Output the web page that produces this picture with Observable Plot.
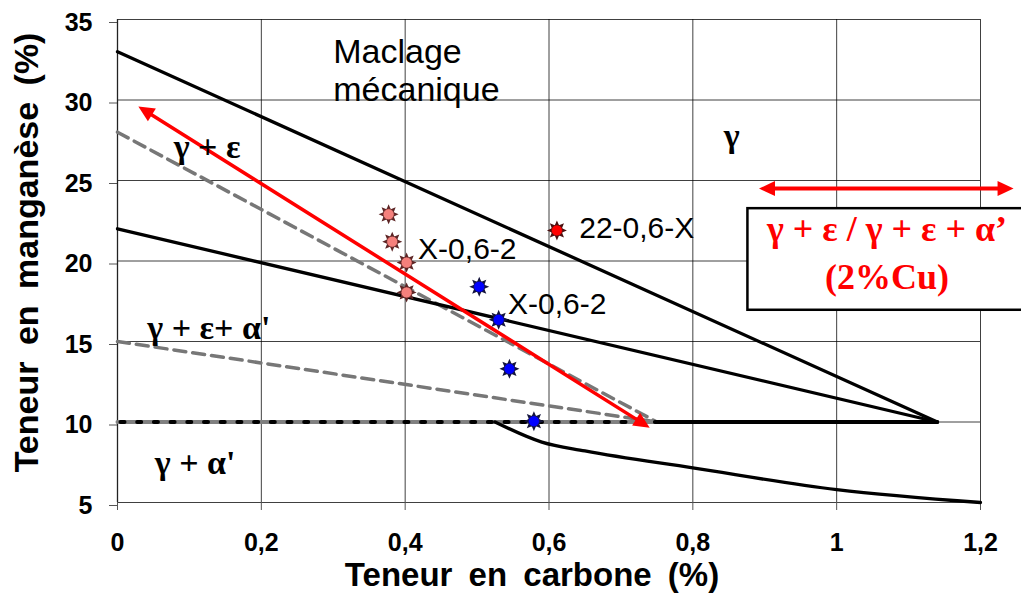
<!DOCTYPE html>
<html>
<head>
<meta charset="utf-8">
<script src="https://cdn.jsdelivr.net/npm/d3@7"></script>
<script src="https://cdn.jsdelivr.net/npm/@observablehq/plot@0.6"></script>
<style>
  html, body { margin: 0; padding: 0; background: #fff; }
</style>
</head>
<body>
<div id="chart"></div>
<script>
// ---- axes ----
const xTicks = [0, 0.2, 0.4, 0.6, 0.8, 1, 1.2];
const xTickLabels = ["0", "0,2", "0,4", "0,6", "0,8", "1", "1,2"];
const yTicks = [5, 10, 15, 20, 25, 30, 35];
const xTitle = "Teneur en carbone (%)";
const yTitle = "Teneur en manganèse (%)";

// ---- phase boundaries (C %, Mn %) ----
const line1C = [0, 1.14], line1Mn = [33, 10];
const line2C = [0, 1.14], line2Mn = [22, 10];
const line3C = [0.75, 1.14], line3Mn = [10, 10];
const lowerC = [0.525, 0.59, 0.65, 0.8, 1.0, 1.2];
const lowerMn = [10, 8.75, 8.2, 7.15, 5.8, 5.0];
const dash1C = [0, 0.75], dash1Mn = [28, 10];
const dash2C = [0, 0.75], dash2Mn = [15, 10];
const dotC = [0, 0.75], dotMn = [10, 10];

// ---- red arrows ----
const arrowC = [0.74, 0.029], arrowMn = [9.65, 29.6];
const cuArrowC = [0.892, 1.246], cuArrowMn = [24.5, 24.5];

// ---- samples ----
const pinkC = [0.377, 0.382, 0.402, 0.402], pinkMn = [22.9, 21.2, 19.9, 18.05];
const blueC = [0.503, 0.530, 0.545, 0.579], blueMn = [18.4, 16.35, 13.3, 10.05];
const redC = [0.611], redMn = [21.9];

// ---- labels ----
const phaseText = ["γ + ε", "γ + ε+ α'", "γ + α'", "γ"];
const phaseC = [0.1245, 0.127, 0.108, 0.854];
const phaseMn = [27.1, 15.86, 7.47, 27.74];
const sampleText = ["X-0,6-2", "22-0,6-X", "X-0,6-2"];
const sampleC = [0.418, 0.642, 0.543];
const sampleMn = [20.72, 22.04, 17.29];
const maclageText = ["Maclage", "mécanique"];
const maclageC = [0.3, 0.3];
const maclageMn = [32.97, 30.61];
const boxText = ["γ + ε / γ + ε + α’", "(2%Cu)"];
const boxTextC = [1.07, 1.07];
const boxTextMn = [21.95, 18.95];
const boxC1 = [0.8766], boxC2 = [1.3], boxMn1 = [16.94], boxMn2 = [23.25];

// ---- layout ----
const W = 1021, H = 599, mL = 117, mR = 41, mT = 19, mB = 97;
const kx = (W - mL - mR) / 1.2, ky = (H - mT - mB) / 30;

function pts(xs, ys) { return xs.map((x, i) => ({x, y: ys[i]})); }

function heads(xs, ys) {
  const ang = (x1, y1, x2, y2) => Math.atan2((x2 - x1) * kx, (y2 - y1) * ky) * 180 / Math.PI;
  return [
    {x: xs[1], y: ys[1], rot: ang(xs[0], ys[0], xs[1], ys[1])},
    {x: xs[0], y: ys[0], rot: ang(xs[1], ys[1], xs[0], ys[0])}
  ];
}
function shaft(xs, ys, inset) {
  const dxp = (xs[1] - xs[0]) * kx, dyp = (ys[1] - ys[0]) * ky;
  const t = inset / Math.hypot(dxp, dyp);
  return [
    {x: xs[0] + (xs[1] - xs[0]) * t, y: ys[0] + (ys[1] - ys[0]) * t},
    {x: xs[1] - (xs[1] - xs[0]) * t, y: ys[1] - (ys[1] - ys[0]) * t}
  ];
}

const arrowHead = {
  draw(ctx) { ctx.moveTo(0, 0); ctx.lineTo(-7.5, 16); ctx.lineTo(7.5, 16); ctx.closePath(); }
};
const burst = {
  draw(ctx) {
    const n = 8, ro = 10, ri = 5.5;
    for (let i = 0; i < 2 * n; i++) {
      const a = i * Math.PI / n - Math.PI / 2;
      const r = i % 2 === 0 ? ro : ri;
      const px = r * Math.cos(a), py = r * Math.sin(a);
      if (i === 0) ctx.moveTo(px, py); else ctx.lineTo(px, py);
    }
    ctx.closePath();
  }
};

function stars(xs, ys, fill, dark) {
  const d = pts(xs, ys);
  return [
    Plot.dot(d, {x: "x", y: "y", symbol: burst, fill: dark, stroke: "none"}),
    Plot.dot(d, {x: "x", y: "y", r: 5.5, fill, stroke: dark, strokeWidth: 0.6})
  ];
}

const serif = "'Liberation Serif', 'Times New Roman', serif";
const sans = "'Liberation Sans', Arial, sans-serif";

const chart = Plot.plot({
  width: W, height: H,
  marginLeft: mL, marginRight: mR, marginTop: mT, marginBottom: mB,
  x: {domain: [0, 1.2]},
  y: {domain: [5, 35]},
  style: {fontFamily: sans, background: "#fff", color: "#000", overflow: "visible"},
  marks: [
    Plot.gridX(xTicks, {stroke: "#000", strokeOpacity: 0.75, strokeWidth: 1}),
    Plot.gridY(yTicks, {stroke: "#000", strokeOpacity: 0.75, strokeWidth: 1}),
    Plot.axisX({ticks: xTicks, tickFormat: d => xTickLabels[xTicks.indexOf(d)], tickSize: 8, tickPadding: 23,
      fontSize: 25, fontWeight: "bold", label: null, stroke: "#555"}),
    Plot.axisY({ticks: yTicks, tickSize: 8, tickPadding: 17, fontSize: 25, fontWeight: "bold",
      label: null, stroke: "#555", dy: 3}),
    Plot.ruleX([0], {stroke: "#222", strokeWidth: 1.3}),
    // dashed gray boundaries
    Plot.line(pts(dash1C, dash1Mn), {x: "x", y: "y", stroke: "#777", strokeWidth: 3.5, strokeDasharray: "12,7"}),
    Plot.line(pts(dash2C, dash2Mn), {x: "x", y: "y", stroke: "#777", strokeWidth: 3.5, strokeDasharray: "12,7"}),
    Plot.line(pts(dotC, dotMn), {x: "x", y: "y", stroke: "#808080", strokeWidth: 4}),
    Plot.line(pts(dotC, dotMn), {x: "x", y: "y", stroke: "#000", strokeWidth: 4, strokeDasharray: "4,12.7", strokeDashoffset: -3}),
    // solid black boundaries
    Plot.line(pts(line1C, line1Mn), {x: "x", y: "y", stroke: "#000", strokeWidth: 3.3}),
    Plot.line(pts(line2C, line2Mn), {x: "x", y: "y", stroke: "#000", strokeWidth: 3.3}),
    Plot.line(pts(line3C, line3Mn), {x: "x", y: "y", stroke: "#000", strokeWidth: 3.8}),
    Plot.line(pts(lowerC, lowerMn), {x: "x", y: "y", stroke: "#000", strokeWidth: 3.3, curve: "monotone-x"}),
    // red arrow
    Plot.line(shaft(arrowC, arrowMn, 8), {x: "x", y: "y", stroke: "#ff0000", strokeWidth: 3.5}),
    Plot.dot(heads(arrowC, arrowMn), {x: "x", y: "y", rotate: "rot", symbol: arrowHead, fill: "#ff0000", stroke: "none"}),
    // samples
    ...stars(pinkC, pinkMn, "#f4807c", "#5c2424"),
    ...stars(blueC, blueMn, "#0000ff", "#14143c"),
    ...stars(redC, redMn, "#ff0000", "#4a1010"),
    // labels
    Plot.text(phaseText, {x: phaseC, y: phaseMn, fontFamily: serif, fontSize: 34, fontWeight: "bold", fill: "#000"}),
    Plot.text(sampleText, {x: sampleC, y: sampleMn, textAnchor: "start", fontSize: 30, fill: "#000"}),
    Plot.text(maclageText, {x: maclageC, y: maclageMn, textAnchor: "start", fontSize: 34, fill: "#000"}),
    // Cu box
    Plot.rect([0], {x1: boxC1, x2: boxC2, y1: boxMn1, y2: boxMn2, fill: "#fff", stroke: "#000", strokeWidth: 2.5}),
    Plot.text(boxText, {x: boxTextC, y: boxTextMn, fontFamily: serif, fontSize: 36, fontWeight: "bold", fill: "#ff0000"}),
    Plot.line(shaft(cuArrowC, cuArrowMn, 8), {x: "x", y: "y", stroke: "#ff0000", strokeWidth: 4}),
    Plot.dot(heads(cuArrowC, cuArrowMn), {x: "x", y: "y", rotate: "rot", symbol: arrowHead, fill: "#ff0000", stroke: "none"}),
    // axis titles
    Plot.text([xTitle], {frameAnchor: "bottom", lineAnchor: "middle", dx: -17, dy: 73, fontSize: 33,
      fontWeight: "bold", fill: "#000"}),
    Plot.text([yTitle], {x: [-0.125], y: [20.53], rotate: -90, lineAnchor: "middle", fontSize: 34,
      fontWeight: "bold", fill: "#000"})
  ]
});
document.getElementById("chart").appendChild(chart);
// slightly wider word spacing on the axis titles, as in the original
for (const t of chart.querySelectorAll("text")) {
  if (t.textContent === xTitle || t.textContent === yTitle) {
    t.setAttribute("word-spacing", "7");
    t.style.wordSpacing = "7px";
  }
}
</script>
</body>
</html>
